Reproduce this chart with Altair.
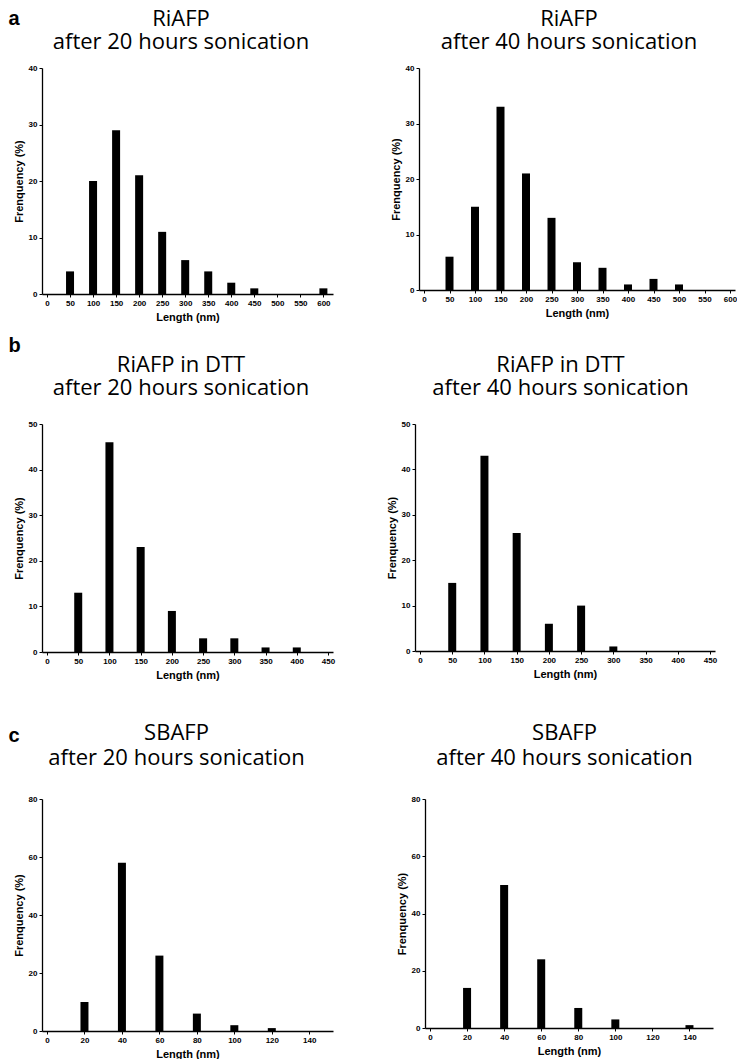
import altair as alt
import pandas as pd

# ---------------- data ----------------
a20_len = [50, 100, 150, 200, 250, 300, 350, 400, 450, 500, 550, 600]
a20_freq = [4, 20, 29, 21, 11, 6, 4, 2, 1, 0, 0, 1]

a40_len = [50, 100, 150, 200, 250, 300, 350, 400, 450, 500]
a40_freq = [6, 15, 33, 21, 13, 5, 4, 1, 2, 1]

b20_len = [50, 100, 150, 200, 250, 300, 350, 400]
b20_freq = [13, 46, 23, 9, 3, 3, 1, 1]

b40_len = [50, 100, 150, 200, 250, 300]
b40_freq = [15, 43, 26, 6, 10, 1]

c20_len = [20, 40, 60, 80, 100, 120]
c20_freq = [10, 58, 26, 6, 2, 1]

c40_len = [20, 40, 60, 80, 100, 140]
c40_freq = [14, 50, 24, 7, 3, 1]

ticks_a = [0, 50, 100, 150, 200, 250, 300, 350, 400, 450, 500, 550, 600]
ticks_b = [0, 50, 100, 150, 200, 250, 300, 350, 400, 450]
ticks_c = [0, 20, 40, 60, 80, 100, 120, 140]
yticks_a = [0, 10, 20, 30, 40]
yticks_b = [0, 10, 20, 30, 40, 50]
yticks_c = [0, 20, 40, 60, 80]

title_a1 = "RiAFP"
title_b1 = "RiAFP in DTT"
title_c1 = "SBAFP"
title_20 = "after 20 hours sonication"
title_40 = "after 40 hours sonication"
x_title = "Length (nm)"
y_title = "Frenquency (%)"

TFONT = "Open Sans"
AFONT = "Liberation Sans"
LETTER_X = -33.5


def text_layer(s, x, y, size, weight, font, align="center", line_height=23):
    return alt.Chart(pd.DataFrame({"t": [s]})).mark_text(
        font=font, fontSize=size, fontWeight=weight, align=align,
        baseline="alphabetic", color="black", lineBreak="\n",
        lineHeight=line_height
    ).encode(text="t:N", x=alt.value(x), y=alt.value(y))


def panel(xs, ys, xmax, xticks, ymax, yticks, w, h,
          t1, t2, tx, ty, lh, letter=None, ly=0):
    df = pd.DataFrame({"Length": xs, "Freq": ys})
    bars = alt.Chart(df).mark_bar(size=8, color="black").encode(
        x=alt.X("Length:Q",
                scale=alt.Scale(domain=[0, xmax], nice=False, zero=True),
                axis=alt.Axis(values=xticks, title=x_title, format="d")),
        y=alt.Y("Freq:Q",
                scale=alt.Scale(domain=[0, ymax], nice=False),
                axis=alt.Axis(values=yticks, title=y_title, format="d")),
    )
    layers = [
        bars,
        text_layer(t1 + "\n" + t2, tx, ty, 22, 500, TFONT, line_height=lh),
    ]
    if letter:
        layers.append(text_layer(letter, LETTER_X, ly, 20, "bold", AFONT, align="left"))
    return alt.layer(*layers).properties(width=w, height=h)


pa1 = panel(a20_len, a20_freq, 610, ticks_a, 40, yticks_a, 291, 226,
            title_a1, title_20, 139, -42, 23, "a", -43)
pa2 = panel(a40_len, a40_freq, 600, ticks_a, 40, yticks_a, 316, 222,
            title_a1, title_40, 150, -42, 23)
pb1 = panel(b20_len, b20_freq, 450, ticks_b, 50, yticks_b, 291, 228,
            title_b1, title_20, 139, -52, 23, "b", -72)
pb2 = panel(b40_len, b40_freq, 450, ticks_b, 50, yticks_b, 300, 227,
            title_b1, title_40, 145.5, -52, 23)
pc1 = panel(c20_len, c20_freq, 150, ticks_c, 80, yticks_c, 291, 232,
            title_c1, title_20, 134.5, -59, 25, "c", -57)
pc2 = panel(c40_len, c40_freq, 150, ticks_c, 80, yticks_c, 288, 229,
            title_c1, title_40, 139.5, -59, 25)

row_a = alt.hconcat(pa1, pa2, spacing=57)
row_b = alt.hconcat(pb1, pb2, spacing=51)
row_c = alt.hconcat(pc1, pc2, spacing=63)

top_ab = alt.concat(row_a, row_b, columns=1, spacing=14, align="none")
chart = alt.concat(top_ab, row_c, columns=1, spacing=42, align="none").properties(
    padding=0
).configure_view(
    stroke=None
).configure_axis(
    grid=False,
    domainColor="black",
    domainWidth=1.3,
    tickColor="black",
    tickWidth=1,
    tickSize=3,
    labelFont=AFONT,
    labelFontSize=8,
    labelFontWeight="bold",
    labelColor="black",
    labelPadding=2,
    labelFlush=False,
    labelOverlap=False,
    titleFont=AFONT,
    titleFontSize=11,
    titleFontWeight="bold",
    titleColor="black",
    titlePadding=4,
)

chart.save("out.html", embed_options={"renderer": "svg", "actions": False})
